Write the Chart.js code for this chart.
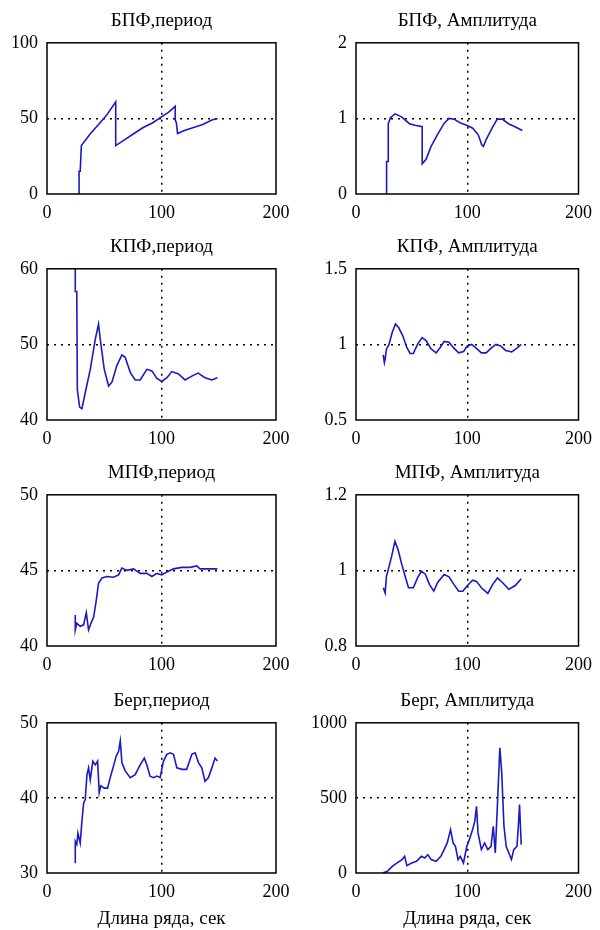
<!DOCTYPE html>
<html>
<head>
<meta charset="utf-8">
<script src="https://cdn.jsdelivr.net/npm/chart.js@4.4.0/dist/chart.umd.min.js"></script>
<style>
    body { margin: 0; background: #fff; }
    #wrap { position: relative; width: 600px; height: 930px; }
    #wrap canvas { position: absolute; }
</style>
</head>
<body>
<div id="wrap"></div>
<script>
// values, one pair of arrays per panel
const xTicks = [0, 100, 200];
const xLabel = 'Длина ряда, сек';

const fftPeriodX = [28, 28, 29, 30, 38, 45, 52, 60, 60, 68, 76, 84, 92, 100, 106, 112, 112, 113, 114, 120, 128, 136, 144, 149];
const fftPeriodY = [0, 15, 15, 32, 40, 46, 52, 61, 32, 36, 40, 44, 47, 51, 54, 58, 49, 47, 40, 42, 44, 46, 49, 50];

const fftAmpX = [27.5, 27.5, 29, 29, 31, 35, 41, 48, 53, 59.5, 59.5, 63, 67.5, 73, 79, 83.5, 88, 94, 99.5, 105, 110, 113, 114.5, 117, 123, 127, 131.5, 137, 143, 149.5];
const fftAmpY = [0, 0.43, 0.43, 0.93, 1.01, 1.06, 1.02, 0.93, 0.91, 0.89, 0.40, 0.46, 0.63, 0.78, 0.93, 1.0, 0.99, 0.94, 0.91, 0.87, 0.78, 0.65, 0.63, 0.72, 0.89, 0.99, 0.99, 0.93, 0.89, 0.84];

const kpfPeriodX = [24.7, 24.7, 26, 26.5, 28.5, 30.5, 33.4, 37.8, 42.2, 45, 46.5, 50, 53.8, 56.7, 61, 65.4, 68.3, 72.7, 77, 81.4, 87.2, 91.6, 96, 100.3, 104.7, 109, 114.8, 120.6, 126.5, 132, 138, 144, 148.8];
const kpfPeriodY = [60, 57, 57, 44, 41.7, 41.5, 43.6, 46.7, 50.7, 52.7, 50.7, 46.7, 44.5, 45, 47.2, 48.6, 48.3, 46.3, 45.3, 45.3, 46.7, 46.5, 45.5, 45.1, 45.6, 46.4, 46.1, 45.3, 45.8, 46.2, 45.6, 45.3, 45.6];

const kpfAmpX = [24.5, 25.5, 26.2, 27.4, 29.7, 32.6, 35.5, 38.4, 41.9, 45.7, 48.6, 51.5, 55.3, 59.4, 63, 67.5, 72, 75.7, 79.2, 83.6, 88, 92.3, 96.7, 100, 104, 108, 112.7, 117, 121.4, 125.8, 130, 134.5, 140, 144.7, 148.5];
const kpfAmpY = [0.93, 0.88, 0.905, 0.97, 1.0, 1.08, 1.135, 1.11, 1.06, 0.98, 0.94, 0.94, 1.0, 1.045, 1.025, 0.97, 0.944, 0.98, 1.02, 1.015, 0.975, 0.944, 0.953, 0.99, 1.0, 0.975, 0.944, 0.944, 0.975, 1.0, 0.99, 0.96, 0.95, 0.975, 1.0];

const mpfPeriodX = [24.7, 24.7, 26, 29, 32, 34.3, 36.3, 38.4, 40.7, 43, 45, 48, 52.3, 58, 62.5, 65.4, 69.8, 75.6, 81.4, 87.2, 91.6, 96, 100.3, 104.7, 110.5, 117.7, 125, 130.8, 133.7, 141, 148.8];
const mpfPeriodY = [42.05, 41.06, 41.5, 41.3, 41.4, 42.2, 41.06, 41.5, 41.9, 43, 44.15, 44.5, 44.6, 44.55, 44.7, 45.15, 45.0, 45.1, 44.8, 44.8, 44.6, 44.8, 44.7, 44.9, 45.1, 45.2, 45.2, 45.3, 45.1, 45.1, 45.1];

const mpfAmpX = [24.5, 26.2, 27.4, 29.7, 32, 35, 37.8, 40.8, 43.7, 47.2, 51.5, 55.3, 58.8, 62.3, 66, 69.9, 73.4, 79.2, 83.6, 88, 92.3, 96, 99.6, 104.8, 108.3, 112.7, 118.5, 122.9, 127.2, 131.6, 137.4, 143.2, 148.5];
const mpfAmpY = [0.954, 0.94, 0.985, 1.01, 1.037, 1.077, 1.055, 1.02, 0.989, 0.954, 0.954, 0.98, 0.998, 0.99, 0.963, 0.945, 0.968, 0.989, 0.983, 0.963, 0.945, 0.945, 0.958, 0.974, 0.971, 0.954, 0.939, 0.963, 0.98, 0.968, 0.95, 0.96, 0.978];

const bergPeriodX = [24.7, 24.7, 26, 27, 29, 30.5, 32, 33.4, 34.9, 36.3, 37.8, 40, 42.2, 44.2, 45.6, 47, 50, 52.9, 55.2, 58, 60.5, 62.5, 64, 65.4, 68.3, 72.7, 77, 81.4, 85, 87.2, 90, 93, 96, 98.8, 101.7, 104.7, 107.6, 110.5, 113.4, 117.7, 122, 126.5, 129.4, 132.3, 135.2, 138, 141, 144, 146.8, 148.8];
const bergPeriodY = [31.3, 34.2, 33.8, 35.3, 34, 36.9, 39.3, 39.8, 43.1, 44, 42.4, 44.9, 44.4, 44.9, 40.7, 41.6, 41.3, 41.3, 42.7, 44.2, 45.6, 46.2, 47.6, 44.7, 43.6, 42.7, 43.1, 44.4, 45.3, 44.4, 42.9, 42.7, 42.9, 42.7, 44.9, 45.8, 46, 45.8, 44, 43.8, 43.8, 45.8, 46, 44.7, 44, 42.2, 42.7, 44, 45.3, 44.9];

const bergAmpX = [23.9, 28.2, 32.6, 37, 41.3, 43.7, 45.7, 50, 54.4, 58.8, 61.7, 64.6, 67.5, 72, 76.3, 79.2, 82, 85, 87.3, 89.4, 91.7, 93.7, 96.6, 99.6, 101.9, 104.8, 106.8, 108.3, 109.7, 112.7, 115.6, 118.5, 121.4, 123.4, 125.2, 127.2, 129.3, 131, 133, 135, 137.4, 139.7, 141.8, 144.7, 146.1, 147, 148.5];
const bergAmpY = [0, 11, 44, 67, 89, 111, 49, 67, 78, 111, 100, 122, 89, 78, 111, 156, 200, 289, 200, 178, 89, 111, 67, 178, 222, 289, 344, 444, 267, 156, 200, 156, 178, 311, 133, 467, 833, 667, 311, 178, 133, 89, 156, 178, 333, 456, 189];

const panels = [
    { title: 'БПФ,период', xs: fftPeriodX, ys: fftPeriodY, yTicks: [0, 50, 100] },
    { title: 'БПФ, Амплитуда', xs: fftAmpX, ys: fftAmpY, yTicks: [0, 1, 2] },
    { title: 'КПФ,период', xs: kpfPeriodX, ys: kpfPeriodY, yTicks: [40, 50, 60] },
    { title: 'КПФ, Амплитуда', xs: kpfAmpX, ys: kpfAmpY, yTicks: [0.5, 1, 1.5] },
    { title: 'МПФ,период', xs: mpfPeriodX, ys: mpfPeriodY, yTicks: [40, 45, 50] },
    { title: 'МПФ, Амплитуда', xs: mpfAmpX, ys: mpfAmpY, yTicks: [0.8, 1, 1.2] },
    { title: 'Берг,период', xs: bergPeriodX, ys: bergPeriodY, yTicks: [30, 40, 50] },
    { title: 'Берг, Амплитуда', xs: bergAmpX, ys: bergAmpY, yTicks: [0, 500, 1000] }
];

const FONT = "'Liberation Serif', 'Times New Roman', serif";
const LINE_COLOR = '#1a1ac4';
const rowTops = [0, 226, 452, 680];

// solid black box round the plot area
const framePlugin = {
    id: 'frame',
    afterDraw(chart) {
        const { ctx, chartArea: a } = chart;
        ctx.save();
        ctx.strokeStyle = '#000';
        ctx.lineWidth = 1.5;
        ctx.strokeRect(a.left, a.top, a.right - a.left, a.bottom - a.top);
        ctx.restore();
    }
};

const wrap = document.getElementById('wrap');

panels.forEach((p, i) => {
    const col = i % 2;
    const row = Math.floor(i / 2);
    const last = row === 3;
    const h = last ? 250 : 226;
    const plotH = last ? 150 : 151;

    const canvas = document.createElement('canvas');
    canvas.width = 300;
    canvas.height = h;
    canvas.style.left = (col * 300) + 'px';
    canvas.style.top = rowTops[row] + 'px';
    wrap.appendChild(canvas);

    const yMid = p.yTicks[1];
    const font = { family: FONT, size: 18 };

    new Chart(canvas.getContext('2d'), {
        type: 'line',
        data: {
            datasets: [{
                data: p.xs.map((x, k) => ({ x: x, y: p.ys[k] })),
                borderColor: LINE_COLOR,
                borderWidth: 1.6,
                pointRadius: 0,
                fill: false,
                tension: 0
            }]
        },
        options: {
            responsive: false,
            animation: false,
            layout: { padding: { left: 0, right: col ? 15 : 24, top: 0, bottom: 0 } },
            plugins: {
                legend: { display: false },
                tooltip: { enabled: false },
                title: {
                    display: true,
                    text: p.title,
                    fullSize: false,
                    color: '#000',
                    font: { family: FONT, size: 19, weight: 'normal' },
                    padding: { top: 10, bottom: 10 }
                }
            },
            scales: {
                x: {
                    type: 'linear',
                    min: xTicks[0],
                    max: xTicks[2],
                    afterFit: (s) => { s.height = h - 43 - plotH; },
                    afterBuildTicks: (s) => { s.ticks = xTicks.map(v => ({ value: v })); },
                    ticks: { color: '#000', font: font, padding: 8, maxRotation: 0 },
                    grid: {
                        drawTicks: false,
                        lineWidth: 1.5,
                        color: (c) => (c.tick && c.tick.value === xTicks[1]) ? '#000' : 'transparent'
                    },
                    border: { display: false, dash: [2, 5] },
                    title: {
                        display: last,
                        text: xLabel,
                        color: '#000',
                        font: { family: FONT, size: 19 },
                        padding: { top: 0, bottom: 0 }
                    }
                },
                y: {
                    type: 'linear',
                    min: p.yTicks[0],
                    max: p.yTicks[2],
                    afterFit: (s) => { s.width = col ? 56 : 47; },
                    afterBuildTicks: (s) => { s.ticks = p.yTicks.map(v => ({ value: v })); },
                    ticks: {
                        color: '#000',
                        font: font,
                        padding: 9,
                        callback: (v) => String(+Number(v).toFixed(2))
                    },
                    grid: {
                        drawTicks: false,
                        lineWidth: 1.5,
                        color: (c) => (c.tick && c.tick.value === yMid) ? '#000' : 'transparent'
                    },
                    border: { display: false, dash: [2, 5] }
                }
            }
        },
        plugins: [framePlugin]
    });
});
</script>
</body>
</html>
